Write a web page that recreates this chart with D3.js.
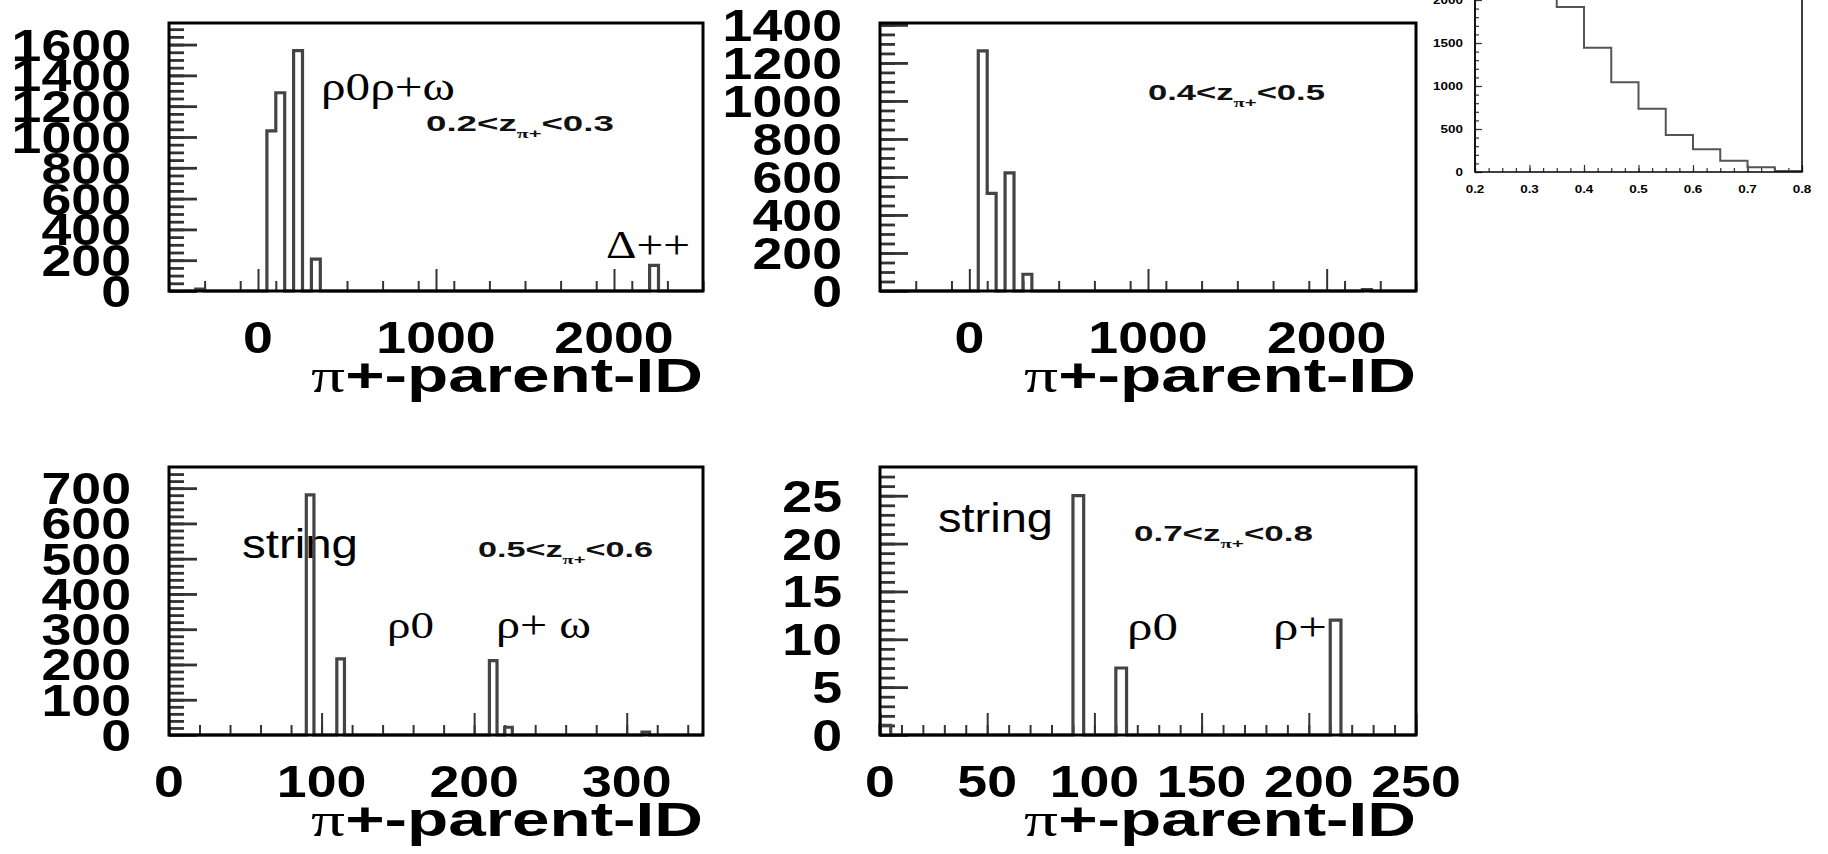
<!DOCTYPE html>
<html>
<head>
<meta charset="utf-8">
<script src="https://cdn.jsdelivr.net/npm/d3@7"></script>
<style>
body { margin: 0; background: #fff; }
svg text { font-family: "Liberation Sans", Arial, Helvetica, sans-serif; }
</style>
</head>
<body>
<div id="chart"></div>
<script>
var width = 1828, height = 854;

// parent-ID histograms: bin start and count, only the filled bins
var idBinWidth = 50;
var p1Starts = [-350, 50, 100, 200, 300, 2200];
var p1Counts = [12, 1039, 1287, 1561, 207, 167];
var p2Starts = [50, 100, 200, 300, 2200];
var p2Counts = [1263, 514, 621, 88, 8];

var fineBinWidth = 5;
var p3Starts = [90, 110, 210, 220, 310];
var p3Counts = [681, 216, 211, 22, 8];
var p4Starts = [0, 90, 110, 210];
var p4Counts = [1, 25, 7, 12];

// z distribution (top right, cut by the page edge)
var zEdges = [0.2, 0.25, 0.3, 0.35, 0.4, 0.45, 0.5, 0.55, 0.6, 0.65, 0.7, 0.75, 0.8];
var zCounts = [2050, 2200, 2350, 1920, 1445, 1043, 736, 430, 264, 131, 55, 12];

// tick labels
var idXLabels = [0, 1000, 2000];
var p1YLabels = [0, 200, 400, 600, 800, 1000, 1200, 1400, 1600];
var p2YLabels = [0, 200, 400, 600, 800, 1000, 1200, 1400];
var p3XLabels = [0, 100, 200, 300];
var p3YLabels = [0, 100, 200, 300, 400, 500, 600, 700];
var p4XLabels = [0, 50, 100, 150, 200, 250];
var p4YLabels = [0, 5, 10, 15, 20, 25];
var zXLabels = [0.2, 0.3, 0.4, 0.5, 0.6, 0.7, 0.8];
var zYLabels = [0, 500, 1000, 1500, 2000];

var svg = d3.select("#chart").append("svg")
	.attr("width", width)
	.attr("height", height);

var labelScale = 1.22;

function fit(t, x, y, w) {
	var bw = t.node().getBBox().width;
	t.attr("transform", "translate(" + x + "," + y + ") scale(" + (w / bw) + ",1)");
	return t;
}

function zLabel(g, lo, hi, x, y, w) {
	var t = g.append("text")
		.attr("font-size", "22px")
		.attr("font-weight", "bold")
		.attr("fill", "#111");
	t.append("tspan").text(lo + "<z");
	t.append("tspan").attr("font-size", "13px").attr("dy", 7)
		.style("font-family", "'Liberation Serif', 'Times New Roman', serif").text("π");
	t.append("tspan").attr("font-size", "13px").text("+");
	t.append("tspan").attr("dy", -7).text("<" + hi);
	fit(t, x, y, w);
}

function serifNote(g, str, x, y, w) {
	var t = g.append("text")
		.style("font-family", "'Liberation Serif', 'Times New Roman', serif")
		.attr("font-size", "39px")
		.attr("fill", "#000")
		.text(str);
	fit(t, x, y, w);
}

function sansNote(g, str, x, y, w) {
	var t = g.append("text")
		.attr("font-size", "40px")
		.attr("fill", "#000")
		.text(str);
	fit(t, x, y, w);
}

function stepPoints(starts, counts, bw, lo, hi) {
	var pts = [[lo, 0]];
	starts.forEach(function(s, i) {
		if (i == 0 || starts[i - 1] + bw != s) pts.push([s, 0]);
		pts.push([s, counts[i]]);
		pts.push([s + bw, counts[i]]);
		if (i == starts.length - 1 || starts[i + 1] != s + bw) pts.push([s + bw, 0]);
	});
	pts.push([hi, 0]);
	return pts;
}

function panel(p) {
	var g = svg.append("g");
	var x = d3.scaleLinear().domain(p.xDomain).range([p.left, p.right]);
	var y = d3.scaleLinear().domain(p.yDomain).range([p.bottom, p.top]);

	// minor + major ticks, drawn inside the frame
	function ticks(axis, vals, size, sw, tr) {
		var a = g.append("g")
			.attr("transform", tr)
			.style("color", "#333")
			.call(axis.tickValues(vals).tickSize(size).tickFormat(""));
		a.select(".domain").remove();
		a.selectAll("line").attr("stroke-width", sw);
	}
	var xMinor = d3.range(p.xDomain[0], p.xDomain[1] + 1e-9, p.xMinor);
	var yMinor = d3.range(0, p.yDomain[1], p.yMinor);
	ticks(d3.axisBottom(x), xMinor, -10, 2, "translate(0," + p.bottom + ")");
	ticks(d3.axisBottom(x), p.xLabels, -22, 2, "translate(0," + p.bottom + ")");
	ticks(d3.axisLeft(y), yMinor, -15, 2.8, "translate(" + p.left + ",0)");
	ticks(d3.axisLeft(y), p.yLabels, -28, 2.8, "translate(" + p.left + ",0)");

	// tick labels
	p.xLabels.forEach(function(v) {
		g.append("text")
			.attr("font-size", "44px").attr("font-weight", "bold")
			.attr("text-anchor", "middle")
			.attr("transform", "translate(" + x(v) + "," + (p.bottom + 62) + ") scale(" + labelScale + ",1)")
			.text(v);
	});
	p.yLabels.forEach(function(v) {
		g.append("text")
			.attr("font-size", "44px").attr("font-weight", "bold")
			.attr("text-anchor", "end")
			.attr("transform", "translate(" + (p.left - 38) + "," + (y(v) + 16) + ") scale(" + labelScale + ",1)")
			.text(v);
	});

	// axis title
	var t = g.append("text")
		.attr("font-size", "49px").attr("font-weight", "bold")
		.attr("text-anchor", "end");
	t.append("tspan")
		.style("font-family", "'Liberation Serif', 'Times New Roman', serif")
		.attr("font-weight", "normal").text("π");
	t.append("tspan").text("+-parent-ID");
	var bw = t.node().getBBox().width;
	t.attr("transform", "translate(" + p.right + "," + (p.bottom + 101) + ") scale(" + (392 / bw) + ",1)");

	p.notes(g);

	var line = d3.line()
		.x(function(d) { return x(d[0]); })
		.y(function(d) { return y(d[1]); });
	g.append("path")
		.datum(stepPoints(p.starts, p.counts, p.binWidth, p.xDomain[0], p.xDomain[1]))
		.attr("d", line)
		.attr("fill", "none")
		.attr("stroke", "#444")
		.attr("stroke-width", 3.2);

	g.append("rect")
		.attr("x", p.left).attr("y", p.top)
		.attr("width", p.right - p.left).attr("height", p.bottom - p.top)
		.attr("fill", "none").attr("stroke", "#000").attr("stroke-width", 3);
}

panel({
	left: 169, right: 703, top: 23, bottom: 291,
	xDomain: [-500, 2500], yDomain: [0, 1740], xMinor: 200, yMinor: 50,
	xLabels: idXLabels, yLabels: p1YLabels,
	starts: p1Starts, counts: p1Counts, binWidth: idBinWidth,
	notes: function(g) {
		serifNote(g, "ρ0ρ+ω", 321, 100, 134);
		zLabel(g, "0.2", "0.3", 426, 131, 188);
		serifNote(g, "Δ++", 606, 258, 84);
	}
});

panel({
	left: 880, right: 1416, top: 23, bottom: 291,
	xDomain: [-500, 2500], yDomain: [0, 1410], xMinor: 200, yMinor: 50,
	xLabels: idXLabels, yLabels: p2YLabels,
	starts: p2Starts, counts: p2Counts, binWidth: idBinWidth,
	notes: function(g) {
		zLabel(g, "0.4", "0.5", 1148, 100, 177);
	}
});

panel({
	left: 169, right: 703, top: 467, bottom: 735,
	xDomain: [0, 350], yDomain: [0, 760], xMinor: 20, yMinor: 20,
	xLabels: p3XLabels, yLabels: p3YLabels,
	starts: p3Starts, counts: p3Counts, binWidth: fineBinWidth,
	notes: function(g) {
		sansNote(g, "string", 242, 558, 116);
		zLabel(g, "0.5", "0.6", 478, 557, 175);
		serifNote(g, "ρ0", 387, 638, 47);
		serifNote(g, "ρ+ ω", 496, 638, 95);
	}
});

panel({
	left: 880, right: 1416, top: 467, bottom: 735,
	xDomain: [0, 250], yDomain: [0, 28], xMinor: 10, yMinor: 1,
	xLabels: p4XLabels, yLabels: p4YLabels,
	starts: p4Starts, counts: p4Counts, binWidth: fineBinWidth,
	notes: function(g) {
		sansNote(g, "string", 938, 532, 115);
		zLabel(g, "0.7", "0.8", 1134, 541, 179);
		serifNote(g, "ρ0", 1127, 640, 51);
		serifNote(g, "ρ+", 1273, 640, 54);
	}
});

// z distribution, top right
(function() {
	var g = svg.append("g");
	var left = 1475, right = 1802, bottom = 172;
	var x = d3.scaleLinear().domain([0.2, 0.8]).range([left, right]);
	var y = d3.scaleLinear().domain([0, 2600]).range([bottom, bottom - 2600 * 0.086]);

	function ticks(axis, vals, size, tr) {
		var a = g.append("g").attr("transform", tr).style("color", "#333")
			.call(axis.tickValues(vals).tickSize(size).tickFormat(""));
		a.select(".domain").remove();
		a.selectAll("line").attr("stroke-width", 1.2);
	}
	ticks(d3.axisBottom(x), d3.range(0.2, 0.8001, 0.025), -4, "translate(0," + bottom + ")");
	ticks(d3.axisBottom(x), zXLabels, -7, "translate(0," + bottom + ")");
	ticks(d3.axisLeft(y), d3.range(0, 2600, 100), -4, "translate(" + left + ",0)");
	ticks(d3.axisLeft(y), zYLabels, -7, "translate(" + left + ",0)");

	zXLabels.forEach(function(v) {
		g.append("text")
			.attr("font-size", "11.5px").attr("font-weight", "bold")
			.attr("text-anchor", "middle")
			.attr("transform", "translate(" + x(v) + "," + (bottom + 21) + ") scale(1.17,1)")
			.text(d3.format(".1f")(v));
	});
	zYLabels.forEach(function(v) {
		g.append("text")
			.attr("font-size", "11.5px").attr("font-weight", "bold")
			.attr("text-anchor", "end")
			.attr("transform", "translate(" + (left - 12) + "," + (y(v) + 4) + ") scale(1.17,1)")
			.text(v);
	});

	var pts = [];
	zCounts.forEach(function(c, i) {
		pts.push([zEdges[i], c]);
		pts.push([zEdges[i + 1], c]);
	});
	pts.unshift([zEdges[0], 0]);
	pts.push([zEdges[zEdges.length - 1], 0]);
	g.append("path")
		.datum(pts)
		.attr("d", d3.line().x(function(d) { return x(d[0]); }).y(function(d) { return y(d[1]); }))
		.attr("fill", "none").attr("stroke", "#555").attr("stroke-width", 2);

	g.append("rect")
		.attr("x", left).attr("y", y(2600))
		.attr("width", right - left).attr("height", bottom - y(2600))
		.attr("fill", "none").attr("stroke", "#000").attr("stroke-width", 1.5);
})();
</script>
</body>
</html>
